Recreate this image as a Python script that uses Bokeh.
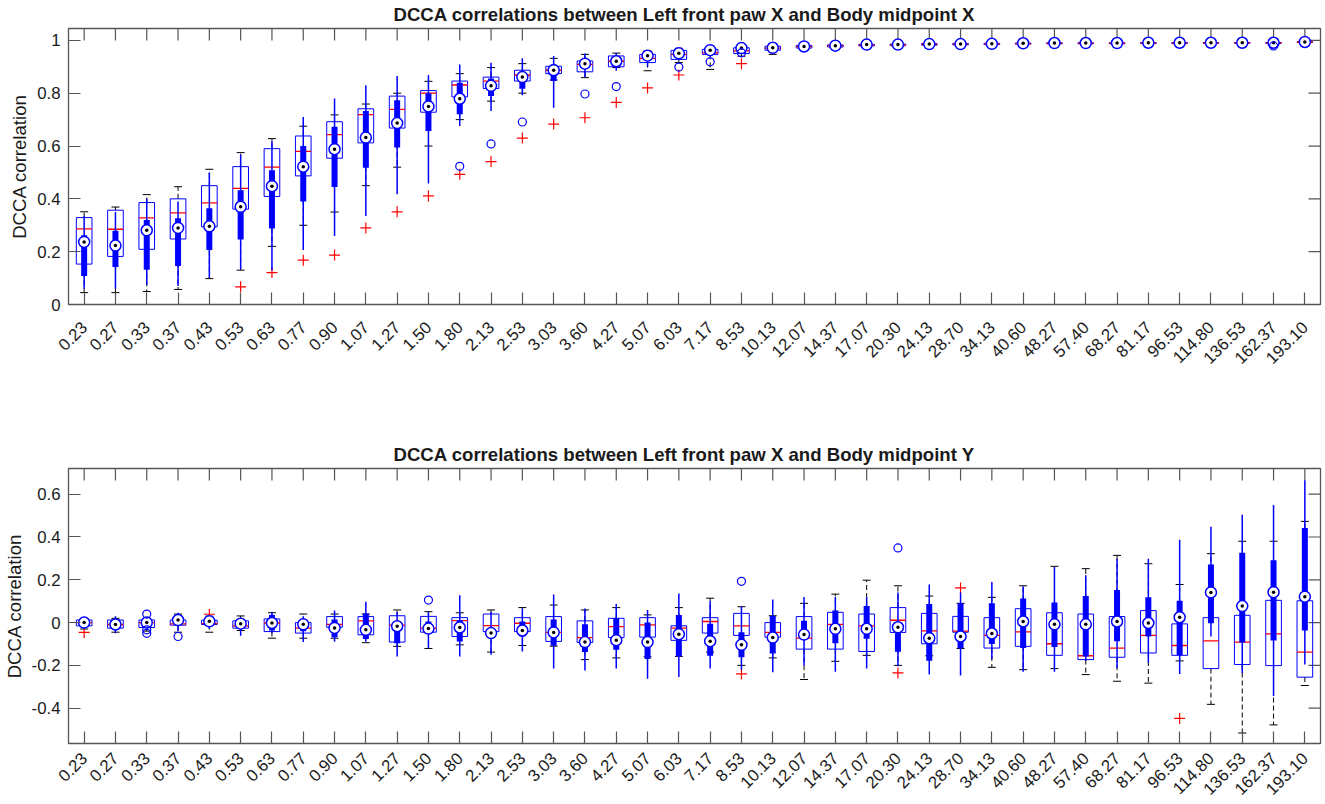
import math
from bokeh.plotting import figure
from bokeh.models import ColumnDataSource, FixedTicker, Range1d, FactorRange
from bokeh.transform import dodge
from bokeh.layouts import column
from bokeh.embed import file_html
from bokeh.resources import INLINE

# ---------------- data ----------------
scales = ["0.23", "0.27", "0.33", "0.37", "0.43", "0.53", "0.63", "0.77", "0.90", "1.07",
          "1.27", "1.50", "1.80", "2.13", "2.53", "3.03", "3.60", "4.27", "5.07", "6.03",
          "7.17", "8.53", "10.13", "12.07", "14.37", "17.07", "20.30", "24.13", "28.70", "34.13",
          "40.60", "48.27", "57.40", "68.27", "81.17", "96.53", "114.80", "136.53", "162.37", "193.10"]

# Top panel (Body midpoint X) - traditional boxplot
top_t_lo = [.045, .045, .049, .057, .098, .13, .22, .30, .35, .45, .52, .60, .70, .77, .80, .85, .859, .897, .885, .916,
            .89, .94, .947, .962, .968, .974, .975, .978, .979, .981, .983, .984, .985, .985, .986, .986, .987, .987, .987, .99]
top_t_q1 = [.153, .182, .209, .248, .294, .361, .409, .487, .554, .612, .668, .728, .786, .818, .846, .874, .881, .90, .916, .928,
            .947, .95, .963, .971, .975, .979, .98, .982, .983, .984, .986, .987, .987, .987, .988, .988, .989, .989, .989, .992]
top_t_med = [.286, .285, .328, .347, .385, .44, .52, .58, .643, .719, .739, .80, .831, .846, .869, .887, .909, .921, .932, .947,
             .953, .96, .971, .976, .979, .982, .983, .985, .986, .987, .988, .989, .989, .989, .990, .990, .990, .990, .990, .993]
top_t_q3 = [.329, .357, .386, .40, .45, .522, .59, .638, .692, .741, .789, .81, .846, .861, .887, .902, .922, .941, .947, .962,
            .966, .972, .978, .981, .983, .985, .986, .988, .988, .989, .990, .991, .991, .991, .992, .992, .992, .992, .992, .995]
top_t_hi = [.351, .369, .416, .446, .512, .575, .628, .675, .718, .759, .80, .845, .874, .897, .912, .932, .947, .952, .96, .97,
            .975, .98, .984, .986, .988, .989, .99, .991, .992, .992, .993, .994, .994, .994, .995, .995, .995, .995, .995, .997]
top_t_out_scale = ["0.53", "0.63", "0.77", "0.90", "1.07", "1.27", "1.50", "1.80", "2.13", "2.53", "3.03", "3.60",
                   "4.27", "5.07", "6.03", "8.53"]
top_t_out_val = [.067, .121, .168, .187, .29, .351, .411, .493, .541, .63, .683, .707, .765, .82, .869, .912]

# Top panel - compact boxplot
top_c_lo = [.06, .06, .075, .07, .10, .134, .13, .206, .259, .335, .417, .458, .676, .733, .792, .745, .86, .885, .90, .93,
            .94, .955, .96, .968, .972, .976, .977, .98, .981, .982, .984, .985, .986, .986, .987, .987, .988, .988, .988, .991]
top_c_q1 = [.108, .142, .132, .146, .206, .246, .288, .39, .445, .518, .594, .657, .72, .789, .817, .846, .895, .91, .928, .94,
            .955, .965, .968, .974, .977, .981, .982, .984, .984, .985, .987, .988, .988, .988, .989, .989, .989, .989, .989, .992]
top_c_med = [.237, .223, .281, .29, .296, .37, .448, .522, .588, .632, .687, .75, .779, .828, .861, .887, .912, .921, .942, .951,
             .963, .971, .972, .977, .98, .984, .984, .986, .986, .987, .989, .99, .99, .99, .991, .991, .991, .991, .991, .994]
top_c_q3 = [.262, .279, .32, .327, .364, .433, .508, .60, .673, .733, .773, .80, .84, .856, .881, .909, .925, .935, .952, .958,
            .97, .976, .977, .98, .983, .986, .986, .988, .988, .989, .99, .991, .991, .991, .992, .992, .992, .992, .992, .995]
top_c_hi = [.335, .35, .40, .39, .50, .566, .62, .71, .78, .83, .865, .869, .909, .915, .932, .941, .95, .952, .962, .968,
            .978, .982, .983, .985, .987, .988, .988, .99, .99, .991, .992, .993, .993, .993, .994, .994, .994, .994, .994, .996]
top_c_out_scale = ["1.80", "2.13", "2.53", "3.60", "4.27", "6.03", "7.17", "8.53", "162.37"]
top_c_out_val = [.523, .608, .691, .797, .825, .899, .919, .953, .979]

# Bottom panel (Body midpoint Y) - traditional boxplot
bot_t_lo = [-0.03, -0.045, -0.04, -0.045, -0.045, -0.037, -0.073, -0.073, -0.073, -0.094, -0.111, -0.121, -0.104, -0.138,
            -0.107, -0.11, -0.173, -0.165, -0.16, -0.158, -0.138, -0.20, -0.165, -0.266, -0.181, -0.153, -0.20, -0.155,
            -0.121, -0.209, -0.22, -0.215, -0.243, -0.274, -0.283, -0.179, -0.382, -0.516, -0.478, -0.294]
bot_t_q1 = [-0.015, -0.026, -0.023, -0.012, -0.009, -0.026, -0.042, -0.049, -0.022, -0.057, -0.091, -0.045, -0.065, -0.042,
            -0.042, -0.088, -0.093, -0.07, -0.068, -0.083, -0.049, -0.06, -0.068, -0.124, -0.124, -0.135, -0.046, -0.099,
            -0.045, -0.119, -0.111, -0.153, -0.173, -0.162, -0.142, -0.153, -0.215, -0.196, -0.201, -0.255]
bot_t_med = [0.0, -0.009, 0.0, -0.006, -0.005, -0.015, -0.002, -0.026, -0.008, 0.008, -0.012, -0.026, 0.009, -0.014,
             -0.003, -0.046, -0.07, -0.019, -0.011, -0.026, 0.005, -0.015, -0.046, -0.073, -0.008, -0.015, 0.011, -0.039,
             -0.04, -0.06, -0.043, -0.099, -0.155, -0.119, -0.06, -0.107, -0.085, -0.091, -0.053, -0.138]
bot_t_q3 = [0.012, 0.012, 0.012, 0.012, 0.011, 0.008, 0.017, 0.0, 0.028, 0.028, 0.032, 0.029, 0.023, 0.04, 0.023, 0.028,
            0.008, 0.02, 0.023, -0.015, 0.023, 0.043, 0.0, 0.028, 0.048, 0.04, 0.07, 0.043, 0.029, 0.023, 0.065, 0.046,
            0.04, 0.028, 0.056, -0.006, 0.023, 0.034, 0.104, 0.102]
bot_t_hi = [0.02, 0.02, 0.02, 0.04, 0.03, 0.031, 0.046, 0.04, 0.04, 0.04, 0.059, 0.051, 0.046, 0.059, 0.07, 0.082, 0.059,
            0.07, 0.036, 0.07, 0.114, 0.074, 0.032, 0.09, 0.133, 0.198, 0.172, 0.124, 0.09, 0.118, 0.172, 0.263, 0.252,
            0.314, 0.275, 0.178, 0.322, 0.38, 0.38, 0.473]
bot_t_out_scale = ["0.23", "0.43", "8.53", "20.30", "28.70", "96.53"]
bot_t_out_val = [-0.046, 0.039, -0.24, -0.235, 0.162, -0.448]

# Bottom panel - compact boxplot
bot_c_lo = [-0.03, -0.05, -0.03, -0.04, -0.03, -0.062, -0.05, -0.091, -0.09, -0.09, -0.158, -0.12, -0.158, -0.15, -0.135,
            -0.215, -0.224, -0.215, -0.263, -0.254, -0.215, -0.22, -0.232, -0.20, -0.23, -0.215, -0.204, -0.243, -0.247,
            -0.17, -0.23, -0.23, -0.18, -0.212, -0.186, -0.24, -0.065, -0.235, -0.343, -0.196]
bot_c_q1 = [-0.008, -0.02, -0.012, -0.005, -0.005, -0.015, -0.037, -0.04, -0.068, -0.077, -0.097, -0.045, -0.088, -0.065,
            -0.065, -0.108, -0.138, -0.127, -0.17, -0.158, -0.155, -0.162, -0.145, -0.08, -0.096, -0.076, -0.136, -0.178,
            -0.121, -0.10, -0.119, -0.114, -0.158, -0.087, -0.065, -0.152, -0.003, -0.093, -0.084, -0.037]
bot_c_med = [0.0, -0.009, 0.0, 0.012, 0.006, -0.005, -0.002, -0.008, -0.025, -0.034, -0.017, -0.028, -0.023, -0.049,
             -0.037, -0.046, -0.091, -0.082, -0.091, -0.054, -0.087, -0.104, -0.07, -0.056, -0.029, -0.029, -0.022, -0.073,
             -0.065, -0.051, 0.005, -0.008, -0.008, 0.005, -0.002, 0.025, 0.141, 0.077, 0.142, 0.121]
bot_c_q3 = [0.008, 0.005, 0.01, 0.02, 0.012, 0.005, 0.036, 0.005, 0.015, 0.043, -0.005, 0.005, 0.012, -0.03, 0.005, 0.015,
            -0.008, 0.02, 0.0, 0.036, -0.006, -0.045, 0.031, 0.009, 0.056, 0.077, -0.01, 0.087, 0.09, 0.09, 0.113, 0.094,
            0.124, 0.152, 0.118, 0.102, 0.272, 0.326, 0.291, 0.442]
bot_c_hi = [0.02, 0.03, 0.025, 0.046, 0.03, 0.02, 0.051, 0.03, 0.056, 0.097, 0.05, 0.05, 0.128, 0.05, 0.065, 0.131, 0.066,
            0.087, 0.059, 0.136, 0.10, 0.075, 0.108, 0.12, 0.12, 0.118, 0.14, 0.178, 0.14, 0.19, 0.17, 0.26, 0.221, 0.298,
            0.298, 0.387, 0.448, 0.504, 0.55, 0.665]
bot_c_out_scale = ["0.33", "0.33", "0.33", "0.37", "1.50", "8.53", "20.30"]
bot_c_out_val = [0.04, -0.034, -0.05, -0.065, 0.105, 0.193, 0.349]

top_yticks = [0, 0.2, 0.4, 0.6, 0.8, 1]
top_ylabels = ["0", "0.2", "0.4", "0.6", "0.8", "1"]
bot_yticks = [-0.4, -0.2, 0, 0.2, 0.4, 0.6]
bot_ylabels = ["-0.4", "-0.2", "0", "0.2", "0.4", "0.6"]

# ---------------- style ----------------
FONT = "Liberation Sans"
AXC = "#555555"
TXT = "#1a1a1a"
TICK_LEN = 12
TICK_W = 1.2
WIDTH = 1324


def panel(title, ylim, yticks, ylabels, T, tout, C, cout, height, min_top, min_bottom, xlab_standoff):
    p = figure(width=WIDTH, height=height, x_range=FactorRange(factors=scales), y_range=Range1d(*ylim),
               output_backend="svg", toolbar_location=None,
               min_border_left=66, min_border_right=4, min_border_top=min_top, min_border_bottom=min_bottom)
    p.background_fill_color = "white"
    p.border_fill_color = "white"
    p.outline_line_color = AXC
    p.outline_line_width = 1.3
    p.xgrid.visible = False
    p.ygrid.visible = False

    p.title.text = title
    p.title.text_font = FONT
    p.title.text_font_size = "18.6px"
    p.title.text_font_style = "bold"
    p.title.text_color = TXT
    p.title.align = "left"
    p.title.vertical_align = "top"
    p.title.offset = 325
    p.title.standoff = 3

    # x axis (below)
    xa = p.xaxis[0]
    xa.major_label_orientation = math.pi / 4
    xa.major_label_text_font = FONT
    xa.major_label_text_font_size = "16.8px"
    xa.major_label_text_color = TXT
    xa.major_label_standoff = xlab_standoff
    xa.major_tick_in = TICK_LEN
    xa.major_tick_out = 0
    xa.major_tick_line_color = AXC
    xa.major_tick_line_width = TICK_W
    xa.axis_line_color = None

    # y axis (left)
    ya = p.yaxis[0]
    ya.ticker = FixedTicker(ticks=yticks)
    ya.major_label_overrides = {t: s for t, s in zip(yticks, ylabels)}
    ya.major_label_text_font = FONT
    ya.major_label_text_font_size = "16.8px"
    ya.major_label_text_color = TXT
    ya.major_label_standoff = 8
    ya.major_tick_in = TICK_LEN
    ya.major_tick_out = 0
    ya.minor_tick_line_color = None
    ya.major_tick_line_color = AXC
    ya.major_tick_line_width = TICK_W
    ya.axis_line_color = None
    ya.axis_label = "DCCA correlation"
    ya.axis_label_text_font = FONT
    ya.axis_label_text_font_size = "18.6px"
    ya.axis_label_text_font_style = "normal"
    ya.axis_label_text_color = TXT
    ya.axis_label_standoff = 4

    # mirrored ticks on the top and right frame edges (half of each marker is clipped by the frame)
    top_src = ColumnDataSource(dict(x=scales, y=[ylim[1]] * len(scales)))
    p.scatter(x="x", y="y", source=top_src, marker="dash", angle=math.pi / 2, size=2 * TICK_LEN,
              line_color=AXC, line_width=TICK_W)
    right_src = ColumnDataSource(dict(x=[scales[-1]] * len(yticks), y=yticks))
    p.scatter(x=dodge("x", 0.5, range=p.x_range), y="y", source=right_src, marker="dash",
              size=2 * TICK_LEN, line_color=AXC, line_width=TICK_W)

    lo, q1, med, q3, hi = T
    ts = ColumnDataSource(dict(x=scales, lo=lo, q1=q1, med=med, q3=q3, hi=hi))
    lo, q1, med, q3, hi = C
    cs = ColumnDataSource(dict(x=scales, lo=lo, q1=q1, med=med, q3=q3, hi=hi))

    # traditional boxplot
    p.segment(x0="x", y0="q3", x1="x", y1="hi", source=ts, line_color="black", line_dash="5 3", line_width=1)
    p.segment(x0="x", y0="q1", x1="x", y1="lo", source=ts, line_color="black", line_dash="5 3", line_width=1)
    p.scatter(x="x", y="hi", source=ts, marker="dash", size=8, line_color="black", line_width=1)
    p.scatter(x="x", y="lo", source=ts, marker="dash", size=8, line_color="black", line_width=1)
    p.vbar(x="x", width=0.5, bottom="q1", top="q3", source=ts, fill_color=None, line_color="blue", line_width=1)
    p.segment(x0=dodge("x", -0.25, range=p.x_range), x1=dodge("x", 0.25, range=p.x_range),
              y0="med", y1="med", source=ts, line_color="red", line_width=1.3)
    p.scatter(x=tout[0], y=tout[1], marker="cross", size=11, line_color="red", line_width=1.2)

    # compact boxplot
    p.segment(x0="x", y0="lo", x1="x", y1="hi", source=cs, line_color="blue", line_width=1.5)
    p.segment(x0="x", y0="q1", x1="x", y1="q3", source=cs, line_color="blue", line_width=6, line_cap="butt")
    p.scatter(x="x", y="med", source=cs, marker="circle", size=11, fill_color="white",
              line_color="blue", line_width=1.5)
    p.scatter(x="x", y="med", source=cs, marker="circle", size=3.5, fill_color="black", line_color=None)
    p.scatter(x=cout[0], y=cout[1], marker="circle", size=8, fill_color=None, line_color="blue", line_width=1.2)
    return p


p1 = panel("DCCA correlations between Left front paw X and Body midpoint X", (0, 1.045),
           top_yticks, top_ylabels,
           (top_t_lo, top_t_q1, top_t_med, top_t_q3, top_t_hi), (top_t_out_scale, top_t_out_val),
           (top_c_lo, top_c_q1, top_c_med, top_c_q3, top_c_hi), (top_c_out_scale, top_c_out_val),
           height=440, min_top=28, min_bottom=136, xlab_standoff=20)
p2 = panel("DCCA correlations between Left front paw X and Body midpoint Y", (-0.565, 0.72),
           bot_yticks, bot_ylabels,
           (bot_t_lo, bot_t_q1, bot_t_med, bot_t_q3, bot_t_hi), (bot_t_out_scale, bot_t_out_val),
           (bot_c_lo, bot_c_q1, bot_c_med, bot_c_q3, bot_c_hi), (bot_c_out_scale, bot_c_out_val),
           height=363, min_top=28, min_bottom=60, xlab_standoff=12)

layout = column(p1, p2, spacing=0)
open("out.html", "w").write(file_html(layout, INLINE))
